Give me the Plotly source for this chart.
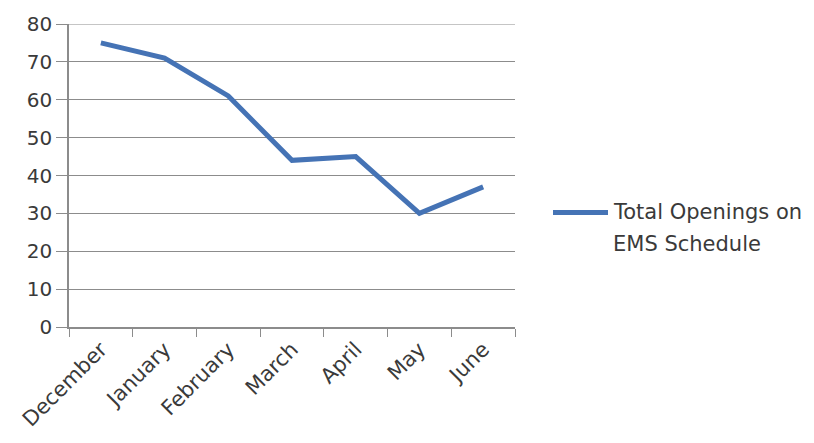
import plotly.graph_objects as go

months = ["December", "January", "February", "March", "April", "May", "June"]
openings = [75, 71, 61, 44, 45, 30, 37]
series_name = "Total Openings on<br>EMS Schedule"
y_ticks = [0, 10, 20, 30, 40, 50, 60, 70, 80]

line_color = "#4573B5"
font_family = "DejaVu Sans"
txt = "#3a3a3a"
grid = "#8c8c8c"

# plot area in pixels: x 69..515, y 22..329
L, R, T, B = 69, 515, 22, 329
W, H = 814, 443
pw, ph = R - L, B - T

def px_x(p):
    return (p - L) / pw

def px_y(p):
    return (B - p) / ph

fig = go.Figure()
fig.add_trace(go.Scatter(
    x=months, y=openings, mode="lines", name=series_name,
    line=dict(color=line_color, width=5), showlegend=False,
))

# top gridline at 80 (edge of range)
fig.add_shape(type="line", xref="paper", yref="y", x0=0, x1=1, y0=y_ticks[-1], y1=y_ticks[-1],
              line=dict(color=grid, width=1))

# legend drawn as a key line and text
fig.add_shape(type="line", xref="paper", yref="paper",
              x0=px_x(553), x1=px_x(608), y0=px_y(213), y1=px_y(213),
              line=dict(color=line_color, width=5))
for i, part in enumerate(series_name.split("<br>")):
    fig.add_annotation(
        xref="paper", yref="paper", x=px_x(611), y=px_y(212 + 33 * i),
        xanchor="left", yanchor="middle", align="left", showarrow=False,
        text=part,
        font=dict(family=font_family, size=21, color=txt),
    )

fig.update_layout(
    width=W, height=H,
    margin=dict(l=L, r=W - R, t=T, b=H - B),
    paper_bgcolor="white", plot_bgcolor="white",
    font=dict(family=font_family, size=19, color=txt),
    showlegend=False,
    xaxis=dict(
        type="category", range=[-0.5, 6.5],
        tickangle=-45, tickson="boundaries",
        ticks="outside", ticklen=8, tickcolor=grid, tickwidth=1,
        showline=True, linecolor=grid, linewidth=1.5,
        showgrid=False, zeroline=False,
        tickfont=dict(family=font_family, size=21, color=txt),
    ),
    yaxis=dict(
        range=[0, 80], tickvals=y_ticks,
        ticks="outside", ticklen=11, tickcolor=grid, tickwidth=1,
        showline=True, linecolor=grid, linewidth=1.5,
        showgrid=True, gridcolor=grid, gridwidth=1,
        zeroline=False,
        tickfont=dict(family=font_family, size=20, color=txt),
    ),
)

fig.write_html("out.html")
